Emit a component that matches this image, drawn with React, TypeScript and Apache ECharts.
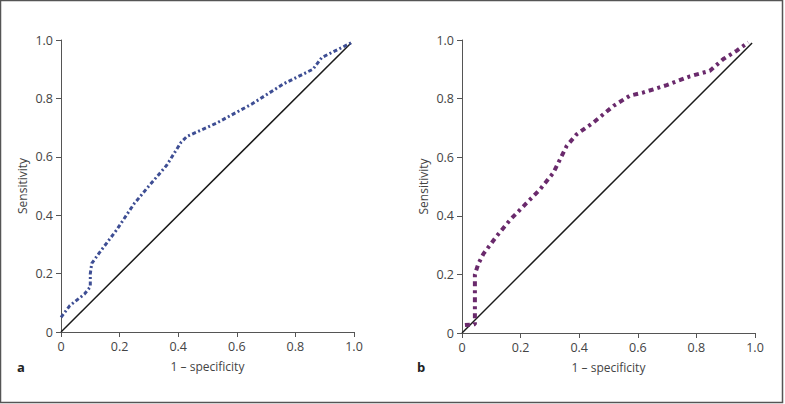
import React, { useEffect, useRef } from "react";
import * as echarts from "echarts";

const ticks = [0, 0.2, 0.4, 0.6, 0.8, 1.0];
const tickLabels = ["0", "0.2", "0.4", "0.6", "0.8", "1.0"];

const rocAX = [0, 0.03, 0.08, 0.1, 0.1, 0.105, 0.13, 0.19, 0.25, 0.3, 0.36, 0.41, 0.43, 0.53, 0.65, 0.76, 0.82, 0.86, 0.89, 0.93, 0.99];
const rocAY = [0.05, 0.09, 0.13, 0.155, 0.2, 0.235, 0.27, 0.35, 0.44, 0.5, 0.57, 0.65, 0.67, 0.715, 0.78, 0.85, 0.88, 0.9, 0.94, 0.96, 0.99];

const rocBX = [0.01, 0.044, 0.044, 0.056, 0.073, 0.118, 0.164, 0.22, 0.266, 0.312, 0.357, 0.391, 0.448, 0.517, 0.573, 0.619, 0.699, 0.778, 0.846, 0.892, 0.937, 0.977];
const rocBY = [0.027, 0.03, 0.2, 0.237, 0.27, 0.33, 0.386, 0.443, 0.49, 0.547, 0.638, 0.678, 0.718, 0.775, 0.81, 0.821, 0.846, 0.876, 0.895, 0.935, 0.963, 0.992];

const refX = [0, 0.99];
const refY = [0, 0.99];

const panels = ["a", "b"];
const xName = "1 – specificity";
const yName = "Sensitivity";

const FONT = "'Open Sans', 'Noto Sans', sans-serif";

export default function App() {
  const ref = useRef<HTMLDivElement>(null);
  useEffect(() => {
    const chart = echarts.init(ref.current!, null, { renderer: "svg" });
    const pair = (xs: number[], ys: number[]) => xs.map((x, i) => [x, ys[i]]);
    const axisCommon = {
      type: "value" as const,
      min: 0,
      max: 1,
      interval: 0.2,
      splitLine: { show: false },
      axisLine: { show: true, lineStyle: { color: "#555", width: 1 } },
      axisTick: { show: true, inside: false, length: 5, lineStyle: { color: "#555" } },
      axisLabel: {
        color: "#444",
        fontSize: 12.5,
        fontFamily: FONT,
        margin: 8,
        formatter: (v: number) => {
          const idx = ticks.findIndex((t) => Math.abs(t - v) < 1e-6);
          return idx >= 0 ? tickLabels[idx] : "";
        },
      },
      nameLocation: "middle" as const,
      nameTextStyle: { color: "#444", fontSize: 12, fontFamily: FONT },
    };
    const grids = [
      { left: 61, top: 40, width: 293, height: 292 },
      { left: 462, top: 40, width: 293, height: 293 },
    ];
    chart.setOption({
      animation: false,
      backgroundColor: "#fff",
      grid: grids,
      xAxis: grids.map((_, i) => ({ ...axisCommon, gridIndex: i, name: xName, nameGap: 28 })),
      yAxis: grids.map((_, i) => ({ ...axisCommon, gridIndex: i, name: yName, nameGap: 33 })),
      series: [
        {
          type: "line",
          xAxisIndex: 0,
          yAxisIndex: 0,
          data: pair(refX, refY),
          symbol: "none",
          lineStyle: { color: "#1a1a1a", width: 1.5 },
        },
        {
          type: "line",
          xAxisIndex: 0,
          yAxisIndex: 0,
          data: pair(rocAX, rocAY),
          symbol: "none",
          lineStyle: { color: "#3e4e94", width: 3, type: [4, 2.5, 2, 2.5] },
        },
        {
          type: "line",
          xAxisIndex: 1,
          yAxisIndex: 1,
          data: pair(refX, refY),
          symbol: "none",
          lineStyle: { color: "#1a1a1a", width: 1.5 },
        },
        {
          type: "line",
          xAxisIndex: 1,
          yAxisIndex: 1,
          data: pair(rocBX, rocBY),
          symbol: "none",
          lineStyle: { color: "#6a2a6c", width: 4, type: [5, 4, 3, 4] },
        },
      ],
      graphic: [
        {
          type: "rect",
          shape: { x: 0.5, y: 0.5, width: 782, height: 402 },
          style: { fill: "none", stroke: "#555", lineWidth: 1.5 },
          silent: true,
        },
        {
          type: "text",
          x: 17,
          y: 360,
          style: { text: panels[0], font: `bold 13px ${FONT}`, fill: "#222" },
        },
        {
          type: "text",
          x: 417,
          y: 360,
          style: { text: panels[1], font: `bold 13px ${FONT}`, fill: "#222" },
        },
      ],
    });
    return () => chart.dispose();
  }, []);
  return (
    <div
      ref={ref}
      style={{ position: "fixed", left: 0, top: 0, width: 785, height: 404 }}
    />
  );
}
